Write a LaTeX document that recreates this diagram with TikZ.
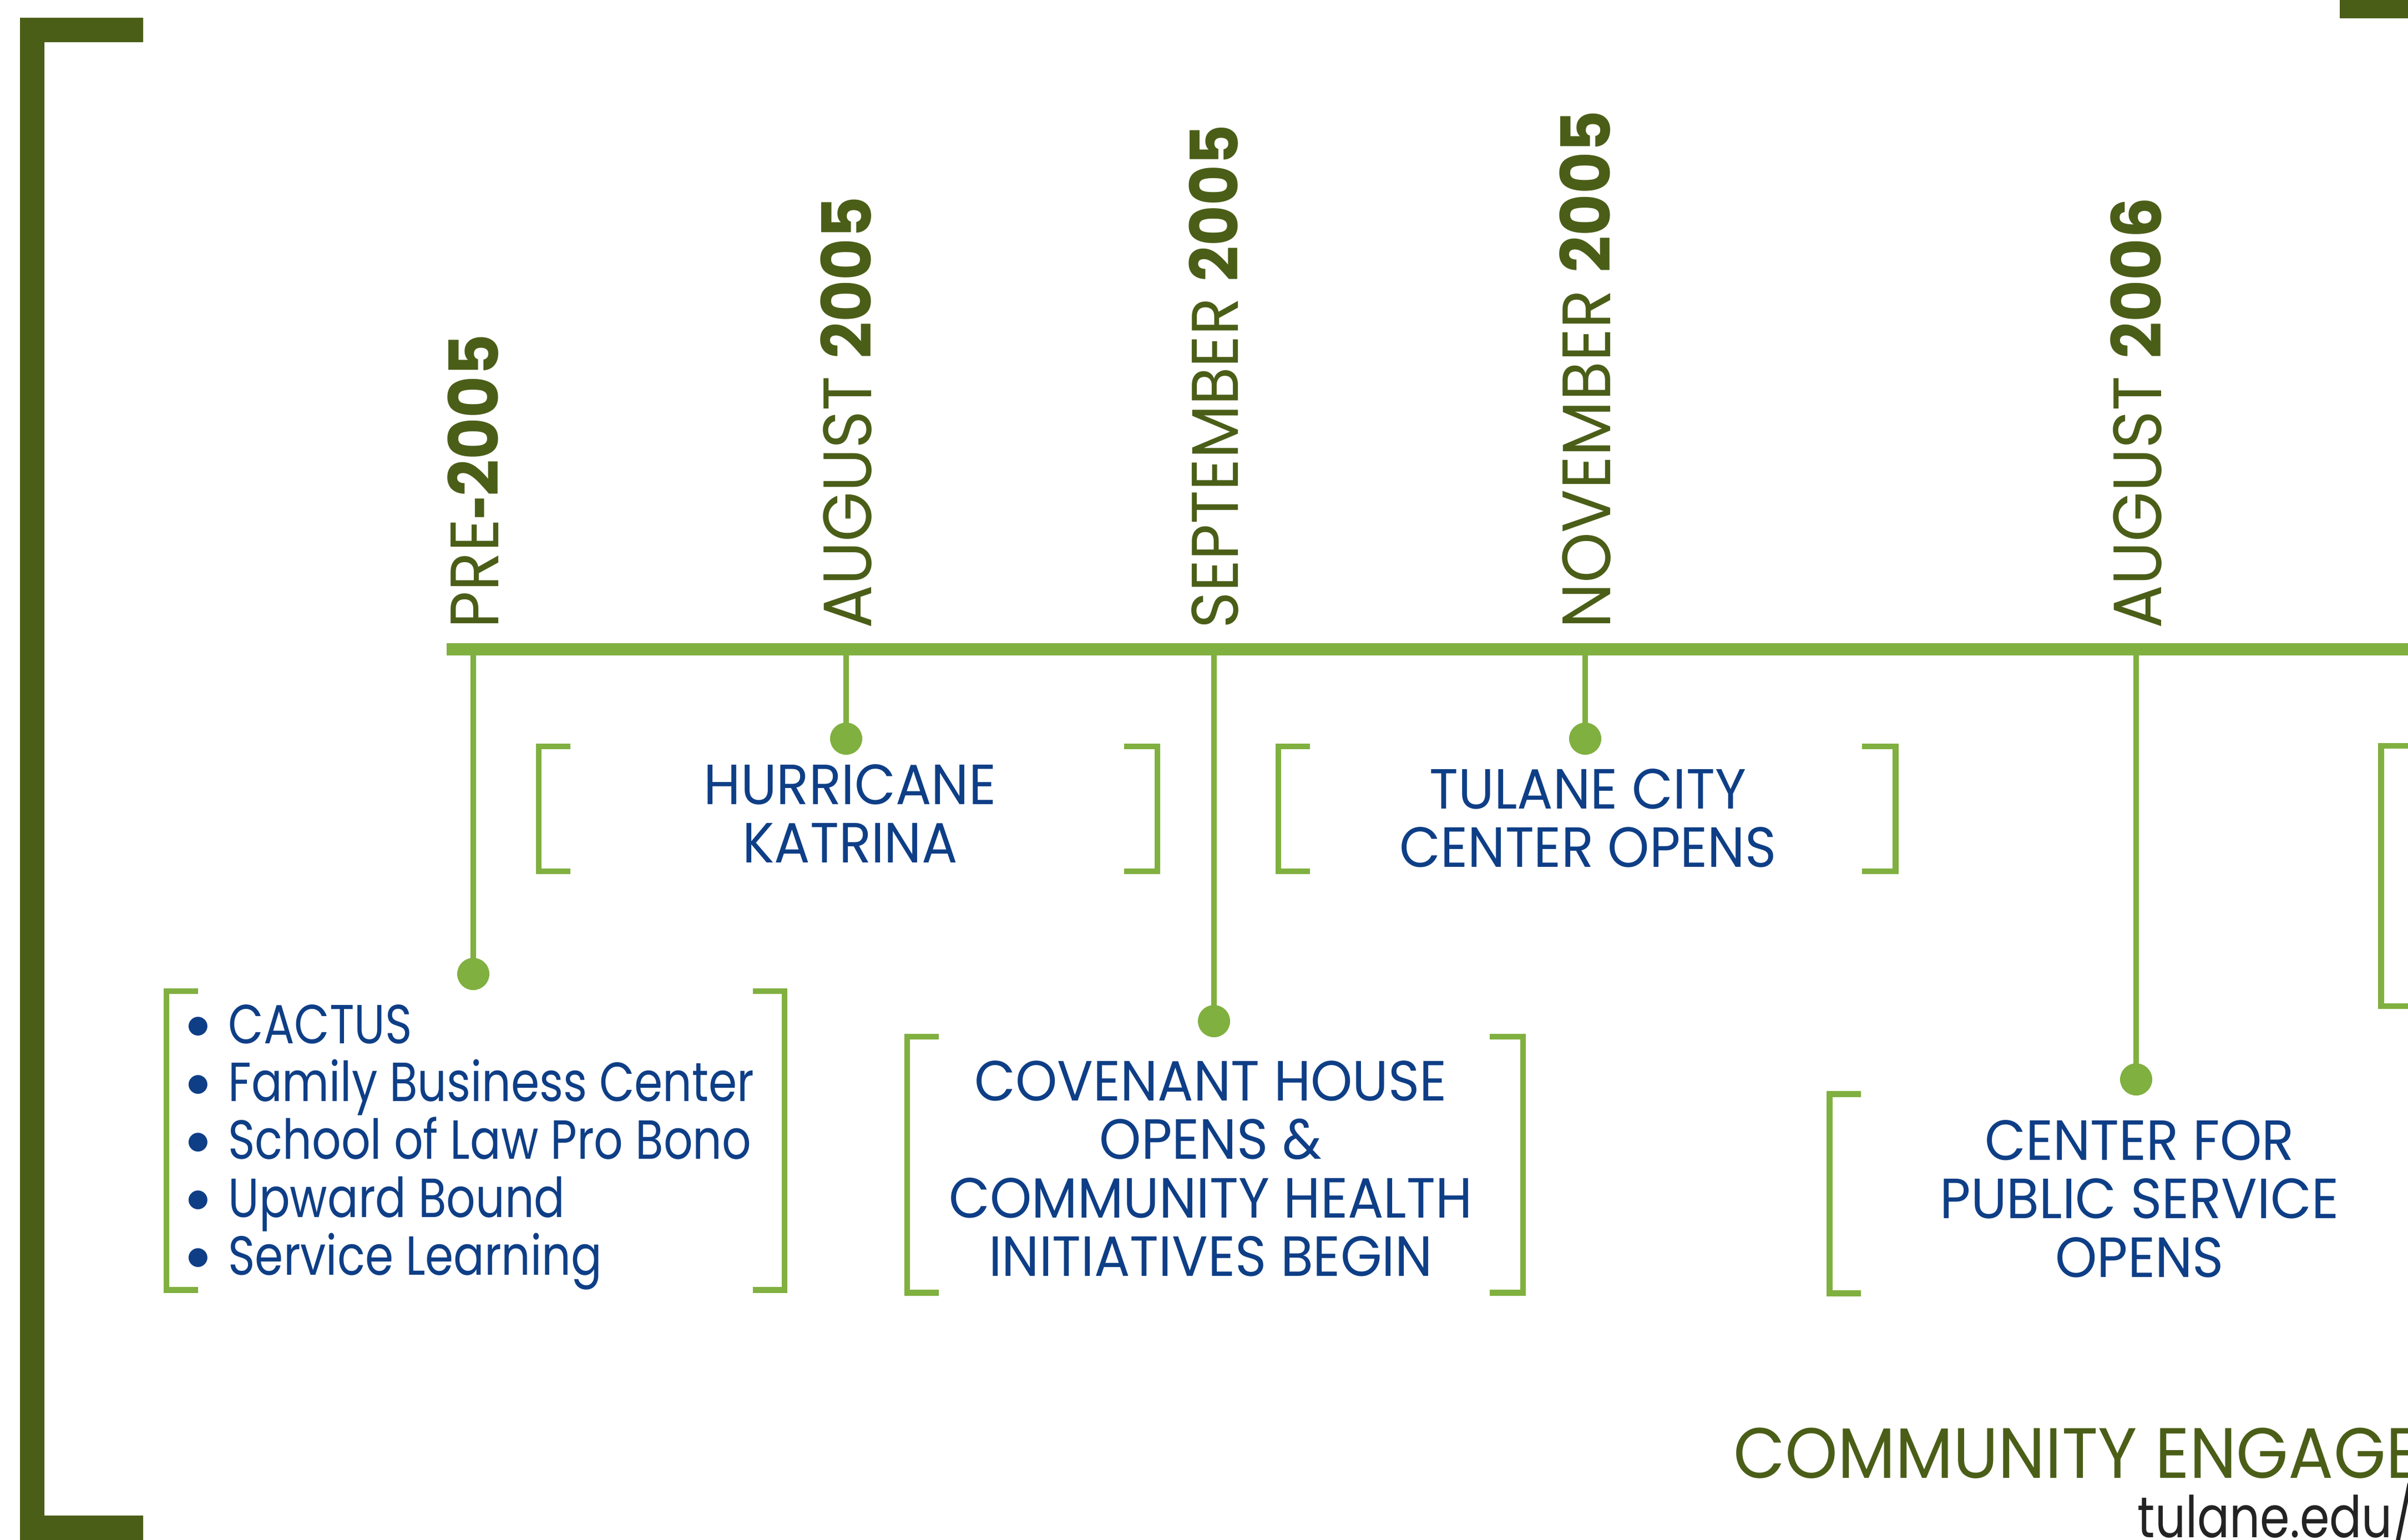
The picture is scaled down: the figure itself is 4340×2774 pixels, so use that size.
\documentclass[tikz,border=0pt]{standalone}
\usepackage{fontspec}
\setmainfont{Poppins}[FakeStretch=0.94]
\newfontfamily\listfont{Poppins}[FakeStretch=0.83]
\newfontfamily\hyfont{TeX Gyre Heros}
\definecolor{dgreen}{RGB}{75,94,24}
\definecolor{lgreen}{RGB}{128,176,64}
\definecolor{navy}{RGB}{14,62,134}
\definecolor{urlgray}{RGB}{35,35,35}
\newcommand{\blt}{\makebox[21.6pt][l]{\raisebox{2.5pt}{$\bullet$}}}

\begin{document}
\begin{tikzpicture}[x=0.01cm,y=-0.01cm,
    dot/.style={circle,fill=lgreen,inner sep=0pt,minimum size=16.5pt},
    stem/.style={lgreen,line width=2.6pt},
    brak/.style={lgreen,line width=3.1pt},
    date/.style={rotate=90,anchor=west,inner sep=0pt,text=dgreen,font=\fontsize{35}{36}\selectfont},
    event/.style={anchor=north,inner sep=0pt,align=center,text=navy,font=\fontsize{29}{29.9}\selectfont}]
\useasboundingbox (0,0) rectangle (4340,2774);

% outer frame
\draw[dgreen,line width=12.5pt] (258,54) -- (58,54) -- (58,2753) -- (258,2753);
\fill[dgreen] (4217,0) rectangle (4340,33);

% timeline
\coordinate (lineL) at (805,1170);
\coordinate (lineR) at (4340,1170);
\draw[lgreen,line width=6.5pt] (lineL) -- (lineR);

% dates
\node[date] (pre) at (853,1133) {PRE{\hyfont\bfseries -}\textbf{2005}};
\node[date] (aug5) at (1525,1133) {AUGUST \textbf{2005}};
\node[date,font=\fontsize{33.8}{35}\selectfont] (sep5) at (2188,1133) {SEPTEMBER \textbf{2005}};
\node[date] (nov5) at (2857,1133) {NOVEMBER \textbf{2005}};
\node[date] (aug6) at (3850,1133) {AUGUST \textbf{2006}};

% stems and dots
\coordinate (t0) at (853,1170);
\coordinate (t1) at (1525,1170);
\coordinate (t2) at (2188,1170);
\coordinate (t3) at (2857,1170);
\coordinate (t4) at (3850,1170);
\node[dot] (d0) at (853,1755) {};
\node[dot] (d1) at (1525,1331) {};
\node[dot] (d2) at (2188,1840) {};
\node[dot] (d3) at (2857,1331) {};
\node[dot] (d4) at (3850,1945) {};
\draw[stem] (t0) -- (d0.center);
\draw[stem] (t1) -- (d1.center);
\draw[stem] (t2) -- (d2.center);
\draw[stem] (t3) -- (d3.center);
\draw[stem] (t4) -- (d4.center);

% brackets
\draw[brak] (357,1786) -| (300,2324) -- (357,2324) (1357,1786) -| (1414,2324) -- (1357,2324);
\draw[brak] (1028,1345) -| (971,1570) -- (1028,1570) (2026,1345) -| (2086,1570) -- (2026,1570);
\draw[brak] (2361,1345) -| (2304,1570) -- (2361,1570) (3356,1345) -| (3416,1570) -- (3356,1570);
\draw[brak] (1692,1868) -| (1635,2329) -- (1692,2329) (2685,1868) -| (2745,2329) -- (2685,2329);
\draw[brak] (3354,1971) -| (3297,2330) -- (3354,2330);
\draw[brak] (4360,1344) -| (4291,1813) -- (4360,1813);

% events
\node[event,anchor=north west,align=left,font=\listfont\fontsize{28.2}{29.6}\selectfont] (prelist) at (335,1810)
  {\blt CACTUS\\\blt Family Business Center\\\blt School of Law Pro Bono\\\blt Upward Bound\\\blt Service Learning};
\node[event] (katrina) at (1532,1377) {HURRICANE\\KATRINA};
\node[event] (citycenter) at (2862,1385) {TULANE CITY\\CENTER OPENS};
\node[event] (covenant) at (2182,1911) {COVENANT HOUSE\\OPENS \&\\COMMUNITY HEALTH\\INITIATIVES BEGIN};
\node[event] (cps) at (3856,2018) {CENTER FOR\\PUBLIC SERVICE\\OPENS};

% footer
\node[anchor=base west,inner sep=0pt,text=dgreen,font=\fontsize{36.5}{37}\selectfont] (engage) at (3124,2663) {COMMUNITY ENGAGE};
\node[anchor=base west,inner sep=0pt,text=urlgray,font=\listfont\fontsize{29.5}{30}\selectfont] (url) at (3852,2770) {tulane.edu/};
\end{tikzpicture}
\end{document}
